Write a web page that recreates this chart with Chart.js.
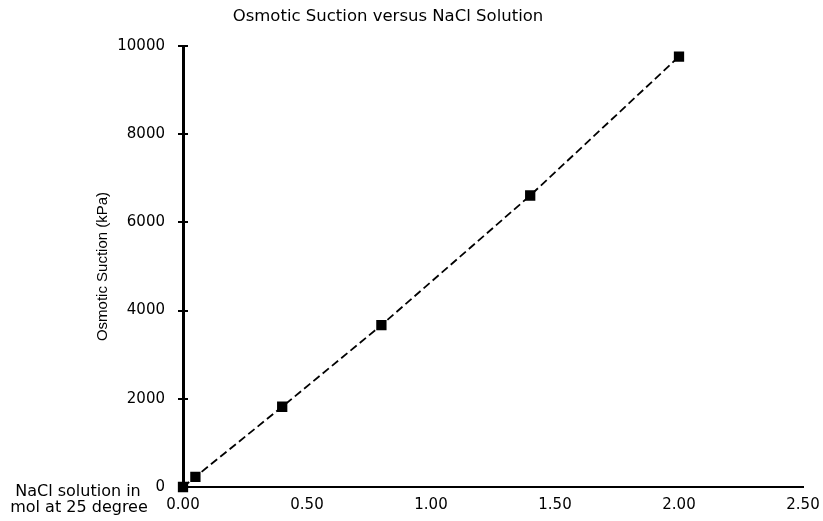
<!DOCTYPE html>
<html>
<head>
<meta charset="utf-8">
<script src="https://cdn.jsdelivr.net/npm/chart.js@4"></script>
<style>
  html, body { margin: 0; padding: 0; background: #fff; }
  #wrap { width: 823px; height: 521px; }
</style>
</head>
<body>
<div id="wrap"><canvas id="suctionChart"></canvas></div>
<script>
// values
var naclMol = [0, 0.05, 0.40, 0.80, 1.40, 2.00];
var suctionKPa = [0, 230, 1820, 3670, 6610, 9760];
var chartTitle = 'Osmotic Suction versus NaCl Solution';
var yTitle = 'Osmotic Suction (kPa)';
var xTitleLines = ['NaCl solution in', 'mol at 25 degree'];

var points = naclMol.map(function(x, i) {
    return { x: x, y: suctionKPa[i] };
});

// title and the two-line x label sit off-centre, so draw them by hand
// also the inner half of the y tick marks (they cross the axis)
var textPlugin = {
    id: 'textPlugin',
    afterDraw: function(chart) {
        var ctx = chart.ctx;
        var yScale = chart.scales.y;
        var left = chart.chartArea.left;
        ctx.save();
        ctx.strokeStyle = '#000';
        ctx.lineWidth = 2;
        yScale.ticks.forEach(function(t) {
            var py = Math.round(yScale.getPixelForValue(t.value));
            ctx.beginPath();
            ctx.moveTo(left, py);
            ctx.lineTo(left + 5, py);
            ctx.stroke();
        });
        ctx.fillStyle = '#000';
        ctx.textAlign = 'center';
        ctx.textBaseline = 'alphabetic';
        ctx.font = '16.5px "DejaVu Sans"';
        ctx.fillText(chartTitle, 388, 21);
        ctx.font = '16px "DejaVu Sans"';
        ctx.fillText(xTitleLines[0], 78, 496);
        ctx.fillText(xTitleLines[1], 79, 512);
        ctx.restore();
    }
};

var ctx = document.getElementById('suctionChart').getContext('2d');
new Chart(ctx, {
    type: 'scatter',
    data: {
        datasets: [{
            data: points,
            showLine: true,
            borderColor: '#000',
            borderWidth: 1.8,
            borderDash: [8, 4],
            backgroundColor: '#000',
            pointStyle: 'rect',
            pointRadius: 6,
            pointHoverRadius: 6,
            clip: false
        }]
    },
    options: {
        responsive: true,
        maintainAspectRatio: false,
        animation: false,
        layout: {
            padding: { top: 46, right: 20, left: 0, bottom: 0 }
        },
        plugins: {
            legend: { display: false },
            title: { display: false },
            tooltip: { enabled: false }
        },
        scales: {
            x: {
                type: 'linear',
                min: 0,
                max: 2.5,
                afterFit: function(scale) {
                    scale.height = 34;
                    scale.paddingRight = 0;
                    scale.paddingLeft = 0;
                },
                border: { display: true, color: '#000', width: 2 },
                grid: { display: false, drawTicks: false },
                ticks: {
                    stepSize: 0.5,
                    padding: 9,
                    color: '#000',
                    font: { family: 'DejaVu Sans', size: 15 },
                    maxRotation: 0,
                    callback: function(v) { return v.toFixed(2); }
                }
            },
            y: {
                type: 'linear',
                min: 0,
                max: 10000,
                afterFit: function(scale) { scale.width = 183; },
                border: { display: true, color: '#000', width: 3 },
                grid: {
                    drawOnChartArea: false,
                    drawTicks: true,
                    tickLength: 5,
                    color: '#000',
                    lineWidth: 2
                },
                ticks: {
                    stepSize: 2000,
                    padding: 13,
                    color: '#000',
                    font: { family: 'DejaVu Sans', size: 15 },
                    callback: function(v) { return String(v); }
                },
                title: {
                    display: true,
                    text: yTitle,
                    color: '#000',
                    font: { family: 'Liberation Sans', size: 15 },
                    padding: { top: 94, bottom: 0 }
                }
            }
        }
    },
    plugins: [textPlugin]
});
</script>
</body>
</html>
